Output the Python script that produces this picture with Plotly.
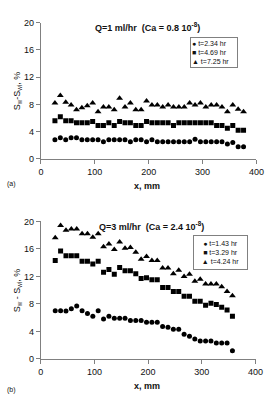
import plotly.graph_objects as go

# ---- data: panel (a) Q=1 ml/hr ----
x_a = [26 + 10 * i for i in range(36)]
a_t234 = [2.8, 3.1, 2.8, 3.1, 3.1, 2.8, 2.8, 2.8, 2.8, 2.5, 2.8, 2.8, 2.8, 2.8, 2.5, 2.8, 2.8, 2.5,
          2.8, 2.5, 2.5, 2.5, 2.5, 2.5, 2.5, 2.5, 2.9, 2.5, 2.5, 2.5, 2.5, 2.5, 2.2, 2.4, 1.8, 1.8]
a_t469 = [5.6, 6.2, 5.6, 5.6, 5.3, 5.3, 5.3, 5.5, 4.9, 4.9, 5.3, 4.9, 5.5, 5.3, 5.3, 4.9, 4.9, 5.5,
          5.3, 5.3, 5.3, 5.3, 4.9, 5.3, 5.3, 5.3, 5.3, 5.3, 5.3, 5.3, 4.9, 4.9, 4.5, 4.9, 4.2, 4.2]
a_t725 = [8.2, 9.3, 8.3, 7.9, 7.2, 7.5, 7.8, 8.2, 6.9, 7.6, 7.6, 7.2, 8.9, 7.6, 8.2, 7.2, 7.2, 8.5,
          7.9, 7.9, 7.6, 7.9, 7.6, 7.6, 7.6, 8.2, 7.9, 8.2, 7.6, 7.9, 7.9, 7.6, 6.9, 7.9, 7.3, 6.9]
a_names = ["t=2.34 hr", "t=4.69 hr", "t=7.25 hr"]

# ---- data: panel (b) Q=3 ml/hr ----
x_b = [27 + 10 * i for i in range(34)]
b_t143 = [7.0, 7.0, 6.95, 7.3, 7.7, 7.0, 6.6, 6.2, 7.0, 5.8, 6.2, 5.9, 5.9, 5.9, 5.6, 5.6, 5.6,
          5.35, 5.35, 5.35, 4.7, 4.6, 4.3, 4.3, 3.6, 3.3, 2.9, 2.6, 2.6, 2.6, 2.3, 2.3, 2.3, 1.2]
b_t329 = [14.3, 15.7, 15.0, 15.0, 15.0, 14.2, 14.2, 13.8, 14.2, 12.6, 13.0, 12.3, 13.3, 12.8, 12.8,
          12.4, 11.7, 11.8, 11.5, 11.5, 10.4, 10.4, 9.8, 9.8, 9.1, 9.1, 8.4, 8.4, 7.8, 8.1, 7.9, 7.5,
          7.1, 6.2]
b_t424 = [17.6, 19.4, 18.7, 18.9, 18.9, 18.2, 18.2, 17.7, 18.2, 16.3, 16.7, 15.9, 17.0, 16.1, 16.2,
          15.5, 14.5, 14.9, 14.3, 14.3, 13.2, 13.2, 12.4, 12.9, 12.0, 12.3, 11.3, 11.6, 10.9, 10.9,
          10.9, 10.5, 9.8, 9.2]
b_names = ["t=1.43 hr", "t=3.29 hr", "t=4.24 hr"]

y_ticks = [0, 4, 8, 12, 16, 20]
x_ticks = [0, 100, 200, 300, 400]

W, H = 276, 414
symbols = ["circle", "square", "triangle-up"]
glyphs = ["\u25CF", "\u25A0", "\u25B2"]
sizes = [5, 5, 6]

fig = go.Figure()
for ys, nm, sym, sz in zip([a_t234, a_t469, a_t725], a_names, symbols, sizes):
    fig.add_trace(go.Scatter(x=x_a, y=ys, mode="markers", name=nm, showlegend=False,
                             marker=dict(symbol=sym, size=sz, color="black"),
                             xaxis="x", yaxis="y"))
for ys, nm, sym, sz in zip([b_t143, b_t329, b_t424], b_names, symbols, sizes):
    fig.add_trace(go.Scatter(x=x_b, y=ys, mode="markers", name=nm, showlegend=False,
                             marker=dict(symbol=sym, size=sz, color="black"),
                             xaxis="x2", yaxis="y2"))

ax_common = dict(showline=True, linecolor="#808080", linewidth=1, ticks="outside",
                 tickcolor="#808080", ticklen=4, showgrid=False, zeroline=False,
                 tickfont=dict(family="Liberation Sans, Arial", size=9, color="#111"))

fig.update_layout(
    width=W, height=H, margin=dict(l=0, r=0, t=0, b=0),
    paper_bgcolor="white", plot_bgcolor="white", showlegend=False,
    xaxis=dict(domain=[39.5 / W, 264 / W], range=[0, 400], tickvals=x_ticks, anchor="y", **ax_common),
    yaxis=dict(domain=[1 - 157.7 / H, 1 - 18 / H], range=[0, 20], tickvals=y_ticks, anchor="x", **ax_common),
    xaxis2=dict(domain=[39.3 / W, 263 / W], range=[0, 400], tickvals=x_ticks, anchor="y2", **ax_common),
    yaxis2=dict(domain=[1 - 362.7 / H, 1 - 221.7 / H], range=[0, 20], tickvals=y_ticks, anchor="x2", **ax_common),
)

fnt = dict(family="Liberation Sans, Arial", color="#111")
ann = [
    dict(x=150 / W, y=1 - 23 / H, text="<b>Q=1 ml/hr  (Ca = 0.8 10<sup>-8</sup>)</b>", font=dict(size=9, **fnt)),
    dict(x=155 / W, y=1 - 226 / H, text="<b>Q=3 ml/hr  (Ca = 2.4 10<sup>-8</sup>)</b>", font=dict(size=9, **fnt)),
    dict(x=150 / W, y=1 - 185 / H, text="<b>x, mm</b>", font=dict(size=9, **fnt)),
    dict(x=150 / W, y=1 - 390 / H, text="<b>x, mm</b>", font=dict(size=9, **fnt)),
    dict(x=16 / W, y=1 - 88 / H, text="S<sub>w</sub>-S<sub>wi</sub>, %", textangle=-90, font=dict(size=9, **fnt)),
    dict(x=16 / W, y=1 - 292 / H, text="S<sub>w</sub> - S<sub>wi</sub>, %", textangle=-90, font=dict(size=9, **fnt)),
    dict(x=9 / W, y=1 - 183 / H, text="(a)", font=dict(size=7, **fnt)),
    dict(x=9 / W, y=1 - 395 / H, text="(b)", font=dict(size=7, **fnt)),
]
for a in ann:
    a.update(xanchor="center", yanchor="middle")

# legend boxes built from the series names
leg_a = "<br>".join(g + " " + n for g, n in zip(glyphs, a_names))
leg_b = "<br>".join(g + " " + n for g, n in zip(glyphs, b_names))
ann.append(dict(x=195 / W, y=1 - 33 / H, text=leg_a, xanchor="left", yanchor="top", align="left",
                width=44, height=27, borderpad=1, bordercolor="#808080", borderwidth=1, bgcolor="white",
                font=dict(size=7, **fnt)))
ann.append(dict(x=198 / W, y=1 - 236 / H, text=leg_b, xanchor="left", yanchor="top", align="center",
                width=51, height=31, borderpad=1, bordercolor="#808080", borderwidth=1, bgcolor="white",
                font=dict(size=7, **fnt)))
for a in ann:
    a.update(xref="paper", yref="paper", showarrow=False)
fig.update_layout(annotations=ann)

fig.write_html("out.html", config={"displayModeBar": False},
               post_script="document.body.style.margin='0';document.body.style.padding='0';")
